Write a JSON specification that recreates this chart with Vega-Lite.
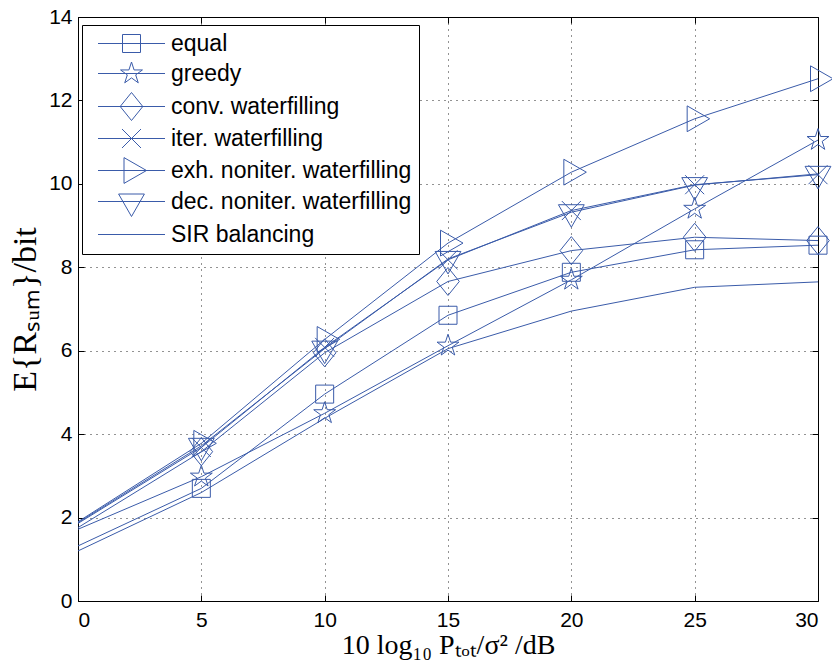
{
  "$schema": "https://vega.github.io/schema/vega-lite/v6.json",
  "autosize": {"type": "none"},
  "width": 740,
  "height": 584,
  "padding": {"left": 78, "top": 17, "right": 14, "bottom": 70},
  "background": "white",
  "config": {
    "view": {"stroke": "#000000", "strokeWidth": 1},
    "axis": {
      "labelFont": "Liberation Sans",
      "labelFontSize": 21,
      "labelColor": "#000000",
      "titleFont": "Liberation Serif",
      "titleFontWeight": "normal",
      "titleFontSize": 28,
      "titleColor": "#000000",
      "tickColor": "#000000",
      "domain": false
    }
  },
  "data": {
    "values": [
      {"s": "equal", "x": 0, "y": 1.32}, {"s": "equal", "x": 5, "y": 2.7}, {"s": "equal", "x": 10, "y": 4.96}, {"s": "equal", "x": 15, "y": 6.85}, {"s": "equal", "x": 20, "y": 7.88}, {"s": "equal", "x": 25, "y": 8.42}, {"s": "equal", "x": 30, "y": 8.53},
      {"s": "greedy", "x": 0, "y": 1.72}, {"s": "greedy", "x": 5, "y": 2.98}, {"s": "greedy", "x": 10, "y": 4.5}, {"s": "greedy", "x": 15, "y": 6.12}, {"s": "greedy", "x": 20, "y": 7.7}, {"s": "greedy", "x": 25, "y": 9.4}, {"s": "greedy", "x": 30, "y": 11.05},
      {"s": "conv. waterfilling", "x": 0, "y": 1.76}, {"s": "conv. waterfilling", "x": 5, "y": 3.58}, {"s": "conv. waterfilling", "x": 10, "y": 5.95}, {"s": "conv. waterfilling", "x": 15, "y": 7.66}, {"s": "conv. waterfilling", "x": 20, "y": 8.4}, {"s": "conv. waterfilling", "x": 25, "y": 8.72}, {"s": "conv. waterfilling", "x": 30, "y": 8.64},
      {"s": "iter. waterfilling", "x": 0, "y": 1.86}, {"s": "iter. waterfilling", "x": 5, "y": 3.68}, {"s": "iter. waterfilling", "x": 10, "y": 6.08}, {"s": "iter. waterfilling", "x": 15, "y": 8.18}, {"s": "iter. waterfilling", "x": 20, "y": 9.36}, {"s": "iter. waterfilling", "x": 25, "y": 9.98}, {"s": "iter. waterfilling", "x": 30, "y": 10.22},
      {"s": "exh. noniter. waterfilling", "x": 0, "y": 1.9}, {"s": "exh. noniter. waterfilling", "x": 5, "y": 3.78}, {"s": "exh. noniter. waterfilling", "x": 10, "y": 6.27}, {"s": "exh. noniter. waterfilling", "x": 15, "y": 8.58}, {"s": "exh. noniter. waterfilling", "x": 20, "y": 10.28}, {"s": "exh. noniter. waterfilling", "x": 25, "y": 11.56}, {"s": "exh. noniter. waterfilling", "x": 30, "y": 12.52},
      {"s": "dec. noniter. waterfilling", "x": 0, "y": 1.88}, {"s": "dec. noniter. waterfilling", "x": 5, "y": 3.72}, {"s": "dec. noniter. waterfilling", "x": 10, "y": 6.05}, {"s": "dec. noniter. waterfilling", "x": 15, "y": 8.2}, {"s": "dec. noniter. waterfilling", "x": 20, "y": 9.32}, {"s": "dec. noniter. waterfilling", "x": 25, "y": 9.97}, {"s": "dec. noniter. waterfilling", "x": 30, "y": 10.24},
      {"s": "SIR balancing", "x": 0, "y": 1.2}, {"s": "SIR balancing", "x": 5, "y": 2.6}, {"s": "SIR balancing", "x": 10, "y": 4.38}, {"s": "SIR balancing", "x": 15, "y": 6.05}, {"s": "SIR balancing", "x": 20, "y": 6.95}, {"s": "SIR balancing", "x": 25, "y": 7.52}, {"s": "SIR balancing", "x": 30, "y": 7.65}
    ]
  },
  "resolve": {
    "axis": {"x": "independent", "y": "independent"},
    "scale": {"shape": "independent"}
  },
  "layer": [
    {
      "mark": {"type": "line", "color": "#3a5ba9", "strokeWidth": 1},
      "encoding": {
        "x": {
          "field": "x", "type": "quantitative",
          "scale": {"domain": [0, 30], "nice": false},
          "axis": {
            "orient": "bottom", "values": [0, 5, 10, 15, 20, 25, 30],
            "grid": true, "gridColor": "#000000", "gridDash": [1, 5], "gridOpacity": 0.85,
            "tickSize": -6, "labelPadding": 14,
            "title": "10 log₁₀ Pₜₒₜ/σ² /dB", "titlePadding": 1
          }
        },
        "y": {
          "field": "y", "type": "quantitative",
          "scale": {"domain": [0, 14], "nice": false},
          "axis": {
            "orient": "left", "values": [0, 2, 4, 6, 8, 10, 12, 14],
            "grid": true, "gridColor": "#000000", "gridDash": [1, 5], "gridOpacity": 0.85,
            "tickSize": -6, "labelPadding": 12,
            "title": "E{Rₛᵤₘ}/bit", "titleFontSize": 34, "titlePadding": 6
          }
        },
        "detail": {"field": "s"},
        "order": {"field": "x"}
      }
    },
    {
      "transform": [{"filter": "datum.x > 0 && datum.s != 'SIR balancing'"}],
      "mark": {"type": "point", "filled": false, "color": "#3a5ba9", "strokeWidth": 1, "size": 400, "opacity": 1},
      "encoding": {
        "x": {"field": "x", "type": "quantitative", "axis": null},
        "y": {"field": "y", "type": "quantitative", "axis": null},
        "shape": {
          "field": "s", "type": "nominal", "legend": null,
          "scale": {
            "domain": ["equal", "greedy", "conv. waterfilling", "iter. waterfilling", "exh. noniter. waterfilling", "dec. noniter. waterfilling"],
            "range": [
              "M-0.9,-0.9H0.9V0.9H-0.9Z",
              "M0,-1.15L0.259,-0.356L1.094,-0.355L0.418,0.136L0.676,0.93L0,0.44L-0.676,0.93L-0.418,0.136L-1.094,-0.355L-0.259,-0.356Z",
              "M0,-1.4L1.13,0L0,1.4L-1.13,0Z",
              "M-0.95,-0.95L0.95,0.95M-0.95,0.95L0.95,-0.95",
              "M-0.75,-1.29L1.5,0L-0.75,1.29Z",
              "M-1.29,-0.75L1.29,-0.75L0,1.5Z"
            ]
          }
        }
      }
    },
    {
      "mark": {"type": "point", "filled": false, "color": "#3a5ba9", "strokeWidth": 1, "size": 400, "opacity": 0},
      "encoding": {
        "x": {"field": "x", "type": "quantitative", "axis": null},
        "y": {"field": "y", "type": "quantitative", "axis": null},
        "shape": {
          "field": "s", "type": "nominal",
          "scale": {
            "domain": ["equal", "greedy", "conv. waterfilling", "iter. waterfilling", "exh. noniter. waterfilling", "dec. noniter. waterfilling", "SIR balancing"],
            "range": [
              "M-3.35,0H3.35M-0.9,-0.9H0.9V0.9H-0.9Z",
              "M-3.35,0H3.35M0,-1.15L0.259,-0.356L1.094,-0.355L0.418,0.136L0.676,0.93L0,0.44L-0.676,0.93L-0.418,0.136L-1.094,-0.355L-0.259,-0.356Z",
              "M-3.35,0H3.35M0,-1.4L1.13,0L0,1.4L-1.13,0Z",
              "M-3.35,0H3.35M-0.95,-0.95L0.95,0.95M-0.95,0.95L0.95,-0.95",
              "M-3.35,0H3.35M-0.75,-1.29L1.5,0L-0.75,1.29Z",
              "M-3.35,0H3.35M-1.29,-0.75L1.29,-0.75L0,1.5Z",
              "M-3.35,0H3.35"
            ]
          },
          "legend": {
            "title": null,
            "orient": "none",
            "legendX": 4,
            "legendY": 8,
            "direction": "vertical",
            "fillColor": "white",
            "strokeColor": "#000000",
            "padding": 7,
            "symbolOffset": 31,
            "symbolSize": 400,
            "symbolOpacity": 1,
            "symbolStrokeColor": "#3a5ba9",
            "symbolFillColor": "transparent",
            "symbolStrokeWidth": 1,
            "labelFont": "Liberation Sans",
            "labelFontSize": 23,
            "labelColor": "#000000",
            "labelLimit": 400,
            "labelOffset": 28,
            "rowPadding": 4
          }
        }
      }
    },
    {
      "mark": {"type": "point", "opacity": 0},
      "encoding": {
        "x": {
          "field": "x", "type": "quantitative",
          "axis": {"orient": "top", "values": [0, 5, 10, 15, 20, 25, 30], "labels": false, "grid": false, "tickSize": -6, "title": null}
        },
        "y": {
          "field": "y", "type": "quantitative",
          "axis": {"orient": "right", "values": [0, 2, 4, 6, 8, 10, 12, 14], "labels": false, "grid": false, "tickSize": -6, "title": null}
        }
      }
    }
  ]
}
